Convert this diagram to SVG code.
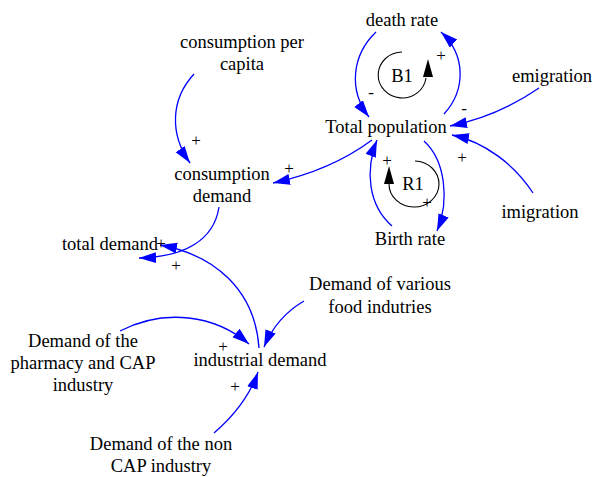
<svg xmlns="http://www.w3.org/2000/svg" width="593" height="477" viewBox="0 0 593 477">
<style>
text{font-family:"Liberation Serif","Times New Roman",serif;fill:#000;}
.n{font-size:18.5px;text-anchor:middle;}
.p{font-size:17px;text-anchor:middle;}
.c{fill:none;stroke:#0000ff;stroke-width:1.3;marker-end:url(#ah);}
.l{fill:none;stroke:#000;stroke-width:1.1;}
</style>
<defs>
<marker id="ah" markerUnits="userSpaceOnUse" markerWidth="18" markerHeight="12" refX="17" refY="5.5" orient="auto">
<path d="M0,0 L17,5.5 L0,11 z" fill="#0000ff"/>
</marker>
</defs>
<rect width="593" height="477" fill="#fff"/>
<g id="connectors">
<path class="c" d="M376,32 C352,55 348,90 369,117"/>
<path class="c" d="M444,114 C466,90 466,55 441,32"/>
<path class="c" d="M539,88 C510,108 480,120 450,126"/>
<path class="c" d="M533,193 C515,165 485,142 452,135"/>
<path class="c" d="M424,141 C445,160 450,200 437,231"/>
<path class="c" d="M392,226 C368,205 365,170 377,140"/>
<path class="c" d="M372,140 C345,160 310,175 273,183"/>
<path class="c" d="M194,74 C170,100 170,135 190,163"/>
<path class="c" d="M219,207 C214,240 185,257 139,258"/>
<path class="c" d="M259,348 C255,290 215,255 160,245"/>
<path class="c" d="M120,331 C165,308 215,315 249,344"/>
<path class="c" d="M304,301 C285,312 272,328 264,347"/>
<path class="c" d="M214,433 C235,415 250,395 258,372"/>
</g>
<g id="polarities">
<text class="p" x="441" y="61">+</text>
<text class="p" x="371" y="98">-</text>
<text class="p" x="464" y="114">-</text>
<text class="p" x="462" y="163">+</text>
<text class="p" x="387" y="166">+</text>
<text class="p" x="427" y="208">+</text>
<text class="p" x="196" y="146">+</text>
<text class="p" x="289" y="174">+</text>
<text class="p" x="161" y="249">+</text>
<text class="p" x="176" y="271">+</text>
<text class="p" x="223" y="352">+</text>
<text class="p" x="235" y="392">+</text>
</g>
<g id="loop-B1">
<path class="l" d="M402,52 A24,23 0 1,0 426,78"/>
<path d="M423,77 L428,59 L433,77 z" fill="#000"/>
<text class="n" x="402" y="82">B1</text>
</g>
<g id="loop-R1">
<path class="l" d="M415,161 A25,23 0 1,1 389,184"/>
<path d="M384,184 L389,166 L394,184 z" fill="#000"/>
<text class="n" x="413" y="190">R1</text>
</g>
<g id="death-rate"><text class="n" x="402" y="26">death rate</text></g>
<g id="consumption-per-capita"><text class="n" x="242" y="48">consumption per</text><text class="n" x="242" y="70">capita</text></g>
<g id="emigration"><text class="n" x="552" y="82">emigration</text></g>
<g id="total-population"><text class="n" x="386" y="133">Total population</text></g>
<g id="consumption-demand"><text class="n" x="222" y="180">consumption</text><text class="n" x="222" y="202">demand</text></g>
<g id="imigration"><text class="n" x="540" y="218">imigration</text></g>
<g id="birth-rate"><text class="n" x="410" y="245">Birth rate</text></g>
<g id="total-demand"><text class="n" x="110" y="250">total demand</text></g>
<g id="demand-various-food"><text class="n" x="380" y="290">Demand of various</text><text class="n" x="380" y="313">food indutries</text></g>
<g id="demand-pharmacy-cap"><text class="n" x="83" y="347">Demand of the</text><text class="n" x="83" y="369">pharmacy and CAP</text><text class="n" x="83" y="391">industry</text></g>
<g id="industrial-demand"><text class="n" x="260" y="366">industrial demand</text></g>
<g id="demand-non-cap"><text class="n" x="161" y="450">Demand of the non</text><text class="n" x="161" y="472">CAP industry</text></g>
</svg>
